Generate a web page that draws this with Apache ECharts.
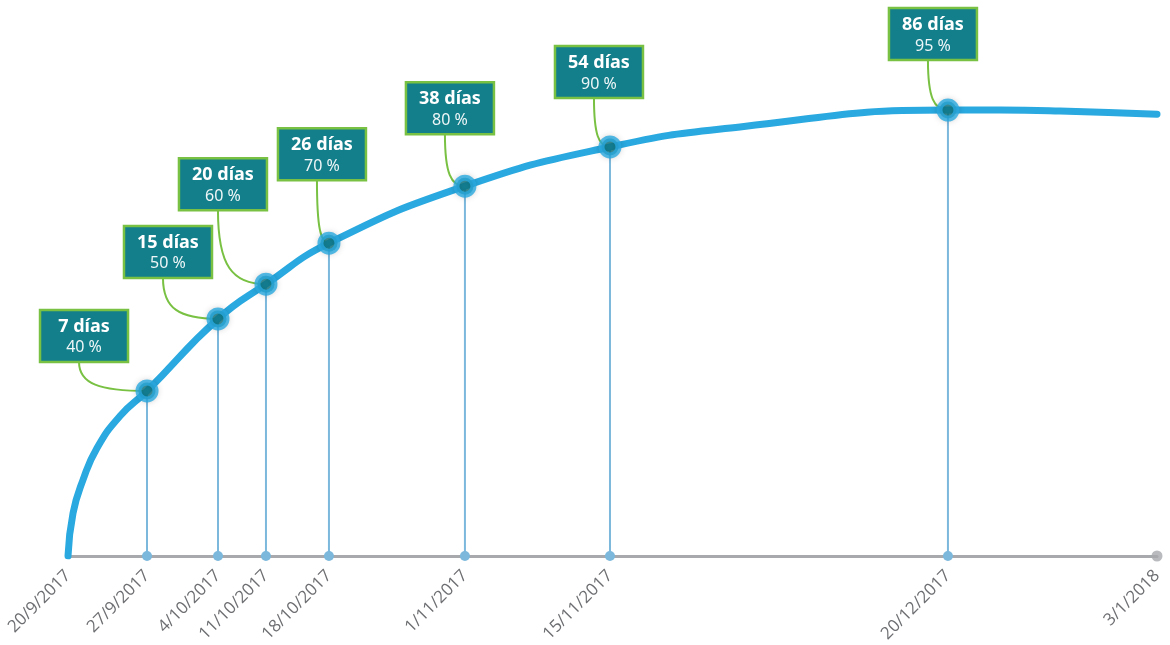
<!DOCTYPE html>
<html>
<head>
<meta charset="utf-8">
<script src="https://cdn.jsdelivr.net/npm/echarts@6/dist/echarts.min.js"></script>
<style>
  html, body { margin: 0; padding: 0; background: #fff; }
  #chart { width: 1170px; height: 645px; }
</style>
</head>
<body>
<div id="chart"></div>
<script>
// fechas del eje y su posición (en días aproximados desde 20/9/2017)
const fechas = ['20/9/2017', '27/9/2017', '4/10/2017', '11/10/2017', '18/10/2017', '1/11/2017', '15/11/2017', '20/12/2017', '3/1/2018']
const fechaX = [0, 7.84, 14.88, 19.64, 25.89, 39.38, 53.77, 87.3, 108.04]

// hitos de la curva
const hitoDias = [7, 15, 20, 26, 38, 54, 86]
const hitoPct = [40, 50, 60, 70, 80, 90, 95]
const hitoX = [7.84, 14.88, 19.64, 25.89, 39.38, 53.77, 87.3]
const hitoY = [36.2, 52.0, 59.6, 68.6, 81.1, 89.7, 97.8]

// trazado de la curva
const curvaX = [0, 0.5, 1.49, 2.88, 5.16, 7.84, 14.88, 19.64, 25.89, 39.38, 53.77, 66.67, 87.3, 92.46, 98.41, 108.04]
const curvaY = [0, 9.4, 16.7, 23.7, 30.7, 36.2, 52.0, 59.6, 68.6, 81.1, 89.7, 94.1, 97.8, 97.8, 97.6, 96.9]

// desplazamiento de cada recuadro respecto a su punto (px)
const cajaOffset = [[-63, -55], [-50, -67], [-43, -100], [-7, -89], [-15, -78], [-11, -75], [-15, -76]]

const chart = echarts.init(document.getElementById('chart'))

const azul = '#29a9e0'
const teal = '#137f8b'
const verde = '#79c143'
const gris = '#a7a9ac'

const option = {
  animation: false,
  grid: {
    left: 68,
    right: 13,
    top: 100,
    bottom: 89,
    containLabel: false,
    outerBoundsMode: 'none'
  },
  xAxis: {
    type: 'value',
    min: 0,
    max: fechaX[fechaX.length - 1],
    splitLine: { show: false },
    axisTick: { show: false },
    axisLine: { show: true, lineStyle: { color: gris, width: 3 } },
    axisLabel: {
      customValues: fechaX,
      rotate: 45,
      margin: 17,
      color: '#6d6e71',
      fontSize: 17,
      fontFamily: 'Open Sans',
      formatter: (v) => {
        const i = fechaX.findIndex(x => Math.abs(x - v) < 0.01)
        return i >= 0 ? fechas[i] : ''
      }
    }
  },
  yAxis: {
    type: 'value',
    min: 0,
    max: 100,
    show: false
  },
  series: [
    {
      // líneas verticales hasta el eje
      type: 'custom',
      z: 1,
      data: hitoX.map((x, i) => [x, hitoY[i]]),
      renderItem: (params, api) => {
        const top = api.coord([api.value(0), api.value(1)])
        const base = api.coord([api.value(0), 0])
        return {
          type: 'group',
          children: [
            {
              type: 'line',
              shape: { x1: base[0], y1: base[1], x2: top[0], y2: top[1] },
              style: { stroke: '#7bb8dc', lineWidth: 2 }
            },
            {
              type: 'circle',
              shape: { cx: base[0], cy: base[1], r: 5 },
              style: { fill: '#7bb8dc' }
            }
          ]
        }
      }
    },
    {
      type: 'scatter',
      z: 2,
      data: [[fechaX[fechaX.length - 1], 0]],
      symbol: 'circle',
      symbolSize: 11,
      itemStyle: { color: gris }
    },
    {
      // recuadros con días y porcentaje
      type: 'custom',
      z: 3,
      data: hitoX.map((x, i) => [x, hitoY[i], hitoDias[i], hitoPct[i]]),
      renderItem: (params, api) => {
        const p = api.coord([api.value(0), api.value(1)])
        const off = cajaOffset[params.dataIndex]
        const w = 88
        const h = 52
        const cx = p[0] + off[0]
        const cy = p[1] + off[1]
        const left = cx - w / 2
        const top = cy - h / 2
        const bottom = top + h
        const sx = cx - 5
        return {
          type: 'group',
          children: [
            {
              type: 'bezierCurve',
              shape: {
                x1: sx, y1: bottom,
                cpx1: sx, cpy1: bottom + 0.75 * (p[1] - bottom),
                cpx2: sx + 0.3 * (p[0] - sx), cpy2: p[1],
                x2: p[0], y2: p[1]
              },
              style: { stroke: verde, lineWidth: 2, fill: null }
            },
            {
              type: 'rect',
              shape: { x: left, y: top, width: w, height: h },
              style: { fill: teal, stroke: verde, lineWidth: 2.5 }
            },
            {
              type: 'text',
              x: cx,
              y: top + 17,
              style: {
                text: api.value(2) + ' días',
                fill: '#fff',
                font: 'bold 18px "Noto Sans"',
                align: 'center',
                verticalAlign: 'middle'
              }
            },
            {
              type: 'text',
              x: cx,
              y: top + 38,
              style: {
                text: api.value(3) + ' %',
                fill: '#eef6f7',
                font: '16px "Noto Sans"',
                align: 'center',
                verticalAlign: 'middle'
              }
            }
          ]
        }
      }
    },
    {
      type: 'line',
      z: 4,
      data: curvaX.map((x, i) => [x, curvaY[i]]),
      smooth: 0.5,
      showSymbol: false,
      silent: true,
      lineStyle: { color: azul, width: 7, cap: 'round' }
    },
    {
      type: 'scatter',
      z: 5,
      data: hitoX.map((x, i) => [x, hitoY[i]]),
      symbol: 'circle',
      symbolSize: 17,
      itemStyle: {
        color: '#0f7d88',
        borderColor: azul,
        borderWidth: 6,
        shadowColor: 'rgba(0,0,0,0.18)',
        shadowBlur: 6
      }
    }
  ]
}

chart.setOption(option)

window.addEventListener('resize', () => {
  chart.resize()
})
</script>
</body>
</html>
